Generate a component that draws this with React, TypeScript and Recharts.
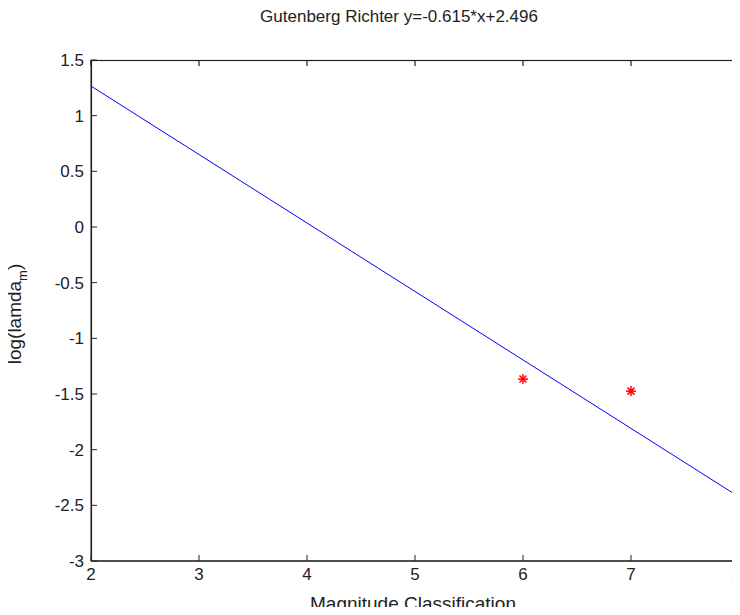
import { ComposedChart, Line, Scatter, XAxis, YAxis } from "recharts"

// magnitude classes and observed log rates
const magnitudes = [6, 7, 8]
const logLamda = [-1.366, -1.474, -2.59]

// fitted Gutenberg-Richter line, read at the two ends
const fitX = [2, 8]
const fitY = [1.266, -2.424]

const xTicks = [2, 3, 4, 5, 6, 7, 8]
const yTicks = [1.5, 1, 0.5, 0, -0.5, -1, -1.5, -2, -2.5, -3]

const FONT = "'Liberation Sans', Arial, sans-serif"
const FS = 17

const X_MIN = 2, X_MAX = 8, Y_MIN = -3, Y_MAX = 1.5

// chart frame
const W = 740, H = 615
const M = { top: 60, right: 1, left: 0, bottom: 24 }
const Y_AXIS_W = 91, X_AXIS_H = 30
const PL = M.left + Y_AXIS_W
const PT = M.top
const PR = W - M.right
const PB = H - M.bottom - X_AXIS_H
const TICK = 6

const points = magnitudes.map((m, i) => ({ x: m, y: logLamda[i] }))
const fitLine = fitX.map((x, i) => ({ x, fit: fitY[i] }))

// MATLAB style ticks: short marks pointing into the plot
function Tick(props: any) {
  const { x, y, payload, side } = props
  const col = "#222"
  if (side === "bottom") {
    return (
      <g>
        <line x1={x} y1={y} x2={x} y2={y - TICK} stroke={col} />
        <text x={x} y={y + 19} textAnchor="middle" fontSize={FS} fontFamily={FONT} fill="#222">
          {payload.value}
        </text>
      </g>
    )
  }
  return (
    <g>
      <line x1={x} y1={y} x2={x + TICK} y2={y} stroke={col} />
      <text x={x - 7} y={y + 6} textAnchor="end" fontSize={FS} fontFamily={FONT} fill="#222">
        {payload.value}
      </text>
    </g>
  )
}

function Star(props: any) {
  const { cx, cy } = props
  const r = 5
  const d = 3.5
  return (
    <g stroke="#ff0000" strokeWidth={1.5}>
      <line x1={cx - r} y1={cy} x2={cx + r} y2={cy} />
      <line x1={cx} y1={cy - r} x2={cx} y2={cy + r} />
      <line x1={cx - d} y1={cy - d} x2={cx + d} y2={cy + d} />
      <line x1={cx - d} y1={cy + d} x2={cx + d} y2={cy - d} />
    </g>
  )
}

// full axes box outline with inward ticks on top and right
function BoxEdges() {
  const sx = (v: number) => PL + ((v - X_MIN) / (X_MAX - X_MIN)) * (PR - PL)
  const sy = (v: number) => PB - ((v - Y_MIN) / (Y_MAX - Y_MIN)) * (PB - PT)
  return (
    <g>
      <rect
        x={PL + 0.5}
        y={PT + 0.5}
        width={PR - PL - 1.5}
        height={PB - PT - 0.5}
        fill="none"
        stroke="#222222"
        strokeWidth={1.2}
      />
      {xTicks.map((t) => (
        <path key={"t" + t} d={`M${sx(t)},${PT} L${sx(t)},${PT + TICK}`} stroke="#222222" strokeWidth={1.2} />
      ))}
      {yTicks.map((t) => (
        <path key={"r" + t} d={`M${PR - 1},${sy(t)} L${PR - 1 - TICK},${sy(t)}`} stroke="#222222" strokeWidth={1.2} />
      ))}
    </g>
  )
}

export default function App() {
  return (
    <div style={{ position: "relative", margin: -8, width: W, height: H, background: "#fff" }}>
      <ComposedChart
        width={W}
        height={H}
        margin={M}
        style={{ position: "absolute", left: 0, top: 0 }}
      >
        <XAxis
          dataKey="x"
          type="number"
          domain={[X_MIN, X_MAX]}
          ticks={xTicks}
          height={X_AXIS_H}
          stroke="#222"
          tickLine={false}
          tickSize={0}
          tickMargin={0}
          tick={<Tick side="bottom" />}
          allowDuplicatedCategory={false}
        />
        <YAxis
          type="number"
          domain={[Y_MIN, Y_MAX]}
          ticks={yTicks}
          width={Y_AXIS_W}
          stroke="#222"
          tickLine={false}
          tickSize={0}
          tickMargin={0}
          tick={<Tick side="left" />}
        />
        <Line
          data={fitLine}
          dataKey="fit"
          stroke="#0000ff"
          strokeWidth={1}
          dot={false}
          isAnimationActive={false}
        />
        <Scatter
          data={points}
          dataKey="y"
          shape={<Star />}
          isAnimationActive={false}
        />
      </ComposedChart>
      <svg
        width={W}
        height={H}
        style={{ position: "absolute", left: 0, top: 0, zIndex: 2, pointerEvents: "none" }}
      >
        <BoxEdges />
        <text x={399} y={22} textAnchor="middle" fontSize={FS} fontFamily={FONT} fill="#222">
          Gutenberg Richter y=-0.615*x+2.496
        </text>
        <text x={413} y={610} textAnchor="middle" fontSize={19} fontFamily={FONT} fill="#222">
          Magnitude Classification
        </text>
        <text transform="translate(21,314) rotate(-90)" textAnchor="middle" fontSize={19} fontFamily={FONT} fill="#222">
          log(lamda
          <tspan fontSize={13} dy={6}>m</tspan>
          <tspan dy={-6}>)</tspan>
        </text>
      </svg>
    </div>
  )
}
